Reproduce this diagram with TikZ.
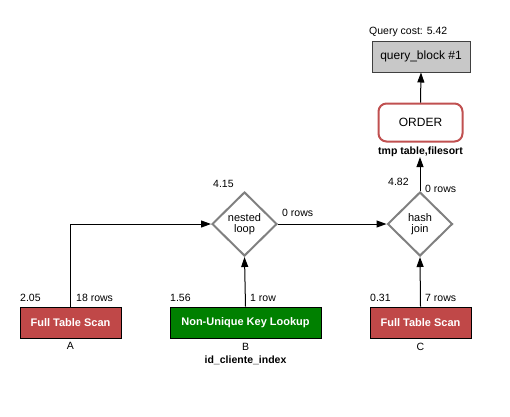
\documentclass[tikz,border=0pt]{standalone}
\usepackage{fontspec}
\setmainfont{Liberation Sans}
\usetikzlibrary{shapes.geometric,arrows.meta}
\definecolor{scanred}{RGB}{192,72,72}
\definecolor{lookgreen}{RGB}{0,128,0}
\definecolor{blockgray}{RGB}{200,200,200}
\definecolor{ordred}{RGB}{192,80,80}
\definecolor{diagray}{RGB}{128,128,128}
\tikzset{
  small/.style={font=\fontsize{10.5}{12}\selectfont, inner sep=0pt},
  smallb/.style={font=\fontsize{10.5}{12}\selectfont\bfseries, inner sep=0pt},
  opbox/.style={draw=black, line width=0.8pt, minimum width=101pt, minimum height=31pt, inner sep=0pt, text=white, font=\fontsize{11}{13}\selectfont\bfseries},
  joinnode/.style={diamond, draw=diagray, line width=2pt, minimum width=65pt, minimum height=64pt, inner sep=0pt, align=center, font=\fontsize{11}{11}\selectfont},
  conn/.style={draw=black, line width=1pt, -{Triangle[length=10pt,width=7pt]}},
}
\begin{document}
\begin{tikzpicture}[x=1pt,y=-1pt]
\useasboundingbox (0,0) rectangle (510,416);
% top block
\node[draw=black!75, fill=blockgray, line width=1pt, minimum width=98pt, minimum height=31pt, inner sep=0pt, font=\fontsize{12}{14}\selectfont] (qb) at (421,56.5) {query\_block \#1};
\node[small, anchor=west] (qcost) at (369,32) {Query cost: 5.42};
% order
\node[draw=ordred, line width=2pt, rounded corners=8pt, minimum width=84pt, minimum height=38pt, inner sep=0pt, font=\fontsize{12}{14}\selectfont] (ord) at (420.5,122.5) {ORDER};
\node[smallb] (ordlbl) at (420.5,152) {tmp table,filesort};
% joins
\node[joinnode] (nl) at (244.5,224) {nested\\loop};
\node[joinnode] (hj) at (420,224) {hash\\join};
% tables
\node[opbox, fill=scanred] (A) at (70.5,322.5) {Full Table Scan};
\node[opbox, fill=lookgreen, minimum width=151pt] (B) at (245.5,322.5) {Non-Unique Key Lookup};
\node[opbox, fill=scanred] (C) at (420.5,322.5) {Full Table Scan};
% labels
\node[small] (la) at (70.5,346) {A};
\node[small] (lb) at (245.5,347) {B};
\node[smallb] (lbi) at (245.5,360) {id\_cliente\_index};
\node[small] (lc) at (420.5,347) {C};
\node[small, anchor=west] (ca) at (20,298) {2.05};
\node[small, anchor=west] (ra) at (76,298) {18 rows};
\node[small, anchor=west] (cb) at (170,298) {1.56};
\node[small, anchor=west] (rb) at (250,298) {1 row};
\node[small, anchor=west] (cc) at (370,298) {0.31};
\node[small, anchor=west] (rc) at (425,298) {7 rows};
\node[small, anchor=west] (cnl) at (213,184) {4.15};
\node[small, anchor=west] (rnl) at (282,213) {0 rows};
\node[small, anchor=west] (chj) at (388,182) {4.82};
\node[small, anchor=west] (rhj) at (425,189) {0 rows};
% connectors
\draw[conn] (A.north) |- (nl.west);
\draw[conn] (B.north) -- (nl.south);
\draw[conn] (nl.east) -- (hj.west);
\draw[conn] (C.north) -- (hj.south);
\draw[conn] (hj.north) -- (ordlbl.south -| hj.north);
\draw[conn] (ord.north) -- (qb.south);
\end{tikzpicture}
\end{document}
